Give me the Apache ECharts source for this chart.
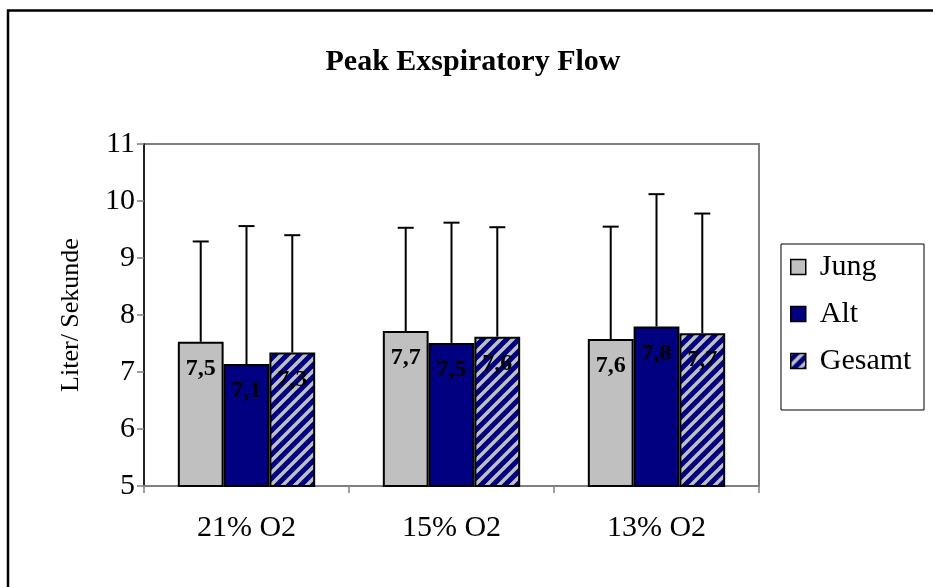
<!DOCTYPE html>
<html>
<head>
<meta charset="utf-8">
<script src="https://cdn.jsdelivr.net/npm/echarts@6/dist/echarts.min.js"></script>
<style>
html,body{margin:0;padding:0;background:#fff;}
#chart{width:933px;height:587px;}
</style>
</head>
<body>
<div id="chart"></div>
<script>
// ---- data ----
const categories = ['21% O2', '15% O2', '13% O2'];
const seriesNames = ['Jung', 'Alt', 'Gesamt'];
const jungMean = [7.53, 7.72, 7.58];
const altMean = [7.14, 7.51, 7.80];
const gesamtMean = [7.34, 7.62, 7.68];
const jungSD = [1.76, 1.81, 1.97];
const altSD = [2.42, 2.11, 2.32];
const gesamtSD = [2.06, 1.92, 2.10];
const yTicks = [5, 6, 7, 8, 9, 10, 11];
const titleText = 'Peak Exspiratory Flow';
const yAxisName = 'Liter/ Sekunde';

const FONT = '"Liberation Serif", "Times New Roman", serif';
const means = [jungMean, altMean, gesamtMean];
const sds = [jungSD, altSD, gesamtSD];

// hatch pattern for Gesamt
function makePattern() {
  const s = 12;
  const c = document.createElement('canvas');
  c.width = s; c.height = s;
  const g = c.getContext('2d');
  g.fillStyle = '#000080';
  g.fillRect(0, 0, s, s);
  g.strokeStyle = '#C0C0C0';
  g.lineWidth = 3.5;
  g.lineCap = 'square';
  g.beginPath();
  g.moveTo(-s, 2 * s); g.lineTo(2 * s, -s);
  g.moveTo(-2 * s, 2 * s); g.lineTo(s, -s);
  g.moveTo(0, 2 * s); g.lineTo(3 * s, -s);
  g.stroke();
  return { image: c, repeat: 'repeat' };
}
const colors = ['#C0C0C0', '#000080', makePattern()];

const GAP = 0.33;

const barSeries = seriesNames.map((name, i) => ({
  name: name,
  type: 'bar',
  data: means[i],
  barGap: '0%',
  barCategoryGap: (GAP * 100) + '%',
  itemStyle: { color: colors[i], borderColor: '#000', borderWidth: 2 },
  label: {
    show: true,
    position: ['50%', 27],
    align: 'center',
    verticalAlign: 'middle',
    color: '#000',
    fontFamily: FONT,
    fontWeight: 'bold',
    fontSize: 24,
    formatter: p => p.value.toFixed(1).replace('.', ',')
  },
  emphasis: { disabled: true },
  z: 2
}));

const errSeries = seriesNames.map((name, i) => ({
  name: name + '_err',
  type: 'custom',
  data: categories.map((c, k) => [k, means[i][k], sds[i][k]]),
  renderItem: function (params, api) {
    const k = api.value(0), m = api.value(1), sd = api.value(2);
    const base = api.coord([k, m]);
    const top = api.coord([k, m + sd]);
    const band = api.size([1, 0])[0];
    const bw = band * (1 - GAP) / 3;
    const x = base[0] + (i - 1) * bw;
    const st = { stroke: '#000', lineWidth: 2 };
    return {
      type: 'group',
      children: [
        { type: 'line', shape: { x1: x, y1: base[1], x2: x, y2: top[1] }, style: st },
        { type: 'line', shape: { x1: x - 8, y1: top[1], x2: x + 8, y2: top[1] }, style: st }
      ]
    };
  },
  silent: true,
  z: 3
}));

const chart = echarts.init(document.getElementById('chart'));
chart.setOption({
  animation: false,
  backgroundColor: '#fff',
  grid: {
    left: 144, right: 174, top: 144, bottom: 101,
    show: true, borderColor: '#808080', borderWidth: 2, backgroundColor: '#fff'
  },
  legend: {
    data: seriesNames,
    orient: 'vertical',
    left: 790,
    top: 252,
    itemWidth: 15,
    itemHeight: 15,
    itemGap: 17,
    icon: 'rect',
    selectedMode: false,
    padding: 0,
    itemStyle: { borderColor: '#000', borderWidth: 1.5 },
    textStyle: { fontFamily: FONT, fontSize: 30, color: '#000', lineHeight: 30, padding: [0, 0, 0, 9] }
  },
  xAxis: {
    type: 'category',
    data: categories,
    axisLine: { lineStyle: { color: '#808080', width: 2 } },
    axisTick: { show: true, length: 7, lineStyle: { color: '#808080', width: 1.5 } },
    axisLabel: { margin: 27, fontFamily: FONT, fontSize: 30, color: '#000' }
  },
  yAxis: {
    type: 'value',
    min: yTicks[0],
    max: yTicks[yTicks.length - 1],
    interval: 1,
    name: yAxisName,
    nameLocation: 'middle',
    nameRotate: 90,
    nameGap: 60,
    nameTextStyle: { fontFamily: FONT, fontSize: 26, color: '#000' },
    splitLine: { show: false },
    axisLine: { show: true, lineStyle: { color: '#000', width: 1.5 } },
    axisTick: { show: true, length: 7, lineStyle: { color: '#808080', width: 1.5 } },
    axisLabel: { margin: 9, fontFamily: FONT, fontSize: 30, color: '#000' }
  },
  graphic: [
    {
      type: 'rect', z: -10,
      shape: { x: 8, y: 10.5, width: 1000, height: 1000 },
      style: { fill: 'none', stroke: '#000', lineWidth: 2.5 }
    },
    {
      type: 'rect', z: -5,
      shape: { x: 781, y: 244, width: 143, height: 166 },
      style: { fill: '#fff', stroke: '#000', lineWidth: 1 }
    },
    {
      type: 'text', x: 473, y: 62,
      style: {
        text: titleText, align: 'center', verticalAlign: 'middle',
        font: 'bold 30px "Liberation Serif", "Times New Roman", serif', fill: '#000'
      }
    }
  ],
  series: barSeries.concat(errSeries)
});
</script>
</body>
</html>
